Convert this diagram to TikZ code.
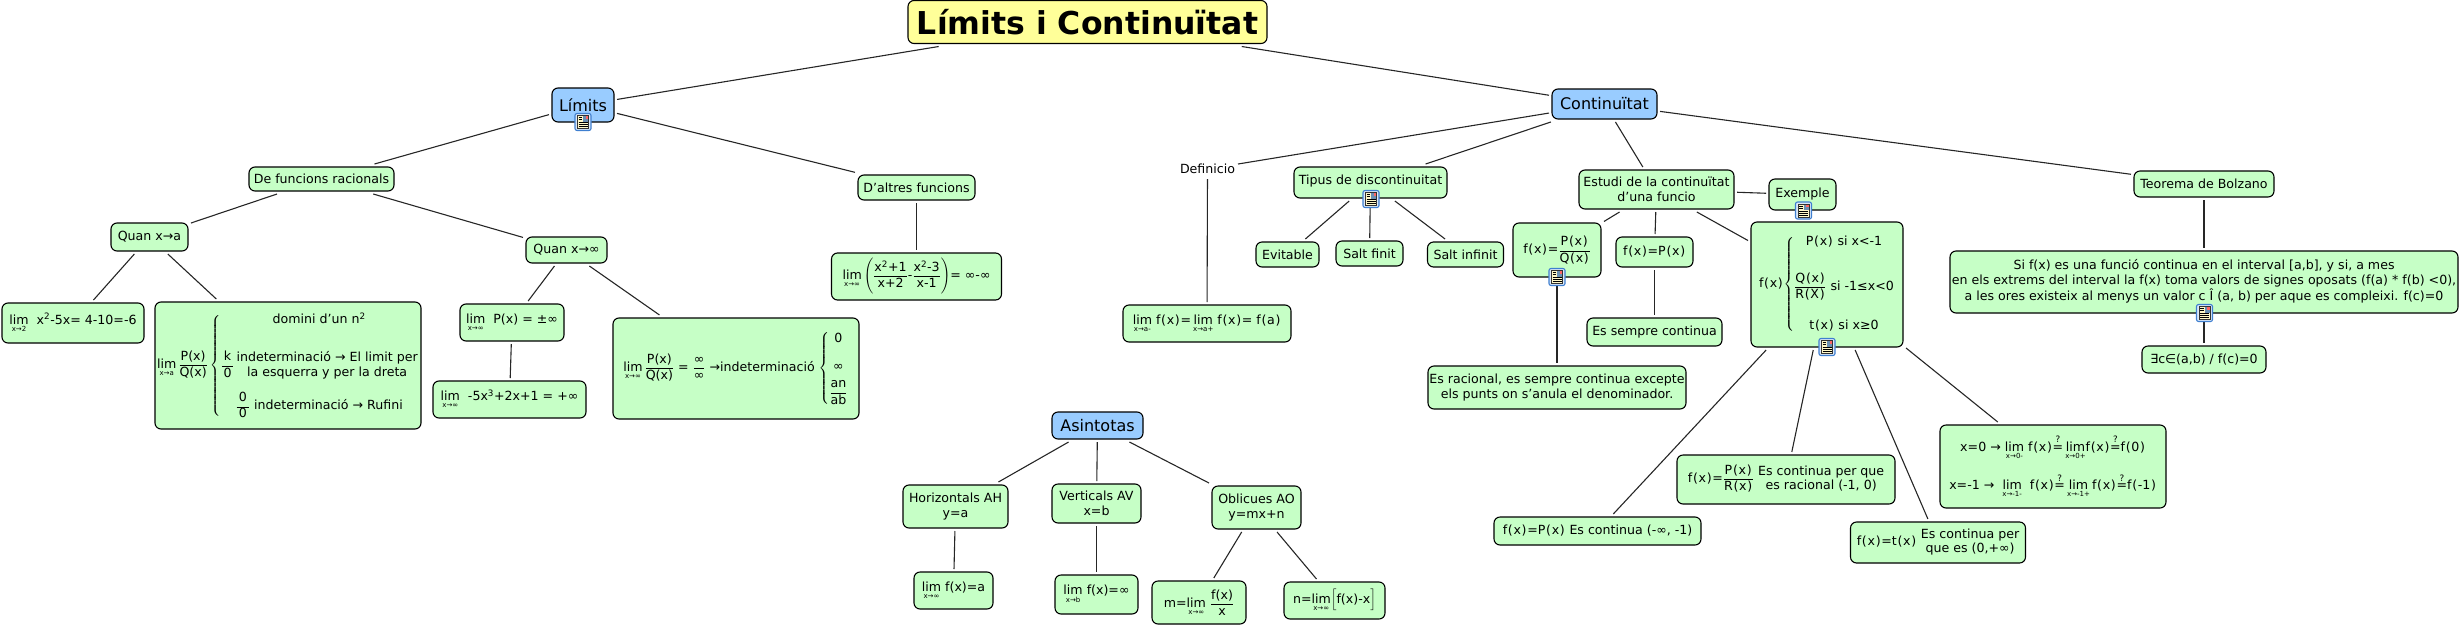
\documentclass[tikz,border=0pt]{standalone}
\usepackage{amsmath}
\usepackage{fontspec}
\setmainfont{DejaVu Sans}
\definecolor{cptgreen}{HTML}{C6FFC6}
\definecolor{cptblue}{HTML}{99CCFF}
\definecolor{cptyellow}{HTML}{FFFF99}
\definecolor{iconblue}{HTML}{3F7FD0}
\definecolor{iconpale}{HTML}{DCE9F8}
\definecolor{iconpage}{HTML}{FFF8C8}
\newcommand{\lm}[1]{\mathop{\text{lim}}\limits_{\hbox{\fontsize{7}{8}\selectfont #1}}}
\newcommand{\fr}[2]{\dfrac{\text{#1}}{\text{#2}}}
\newcommand{\twol}[2]{\begin{tabular}{@{}c@{}}#1\\#2\end{tabular}}
\newcommand{\qeq}{$\overset{\text{?}}{\text{=}}$}
\newcommand{\pr}[1]{\kern.7pt(\kern.7pt#1\kern.7pt)\kern.7pt\relax}
\begin{document}
\begin{tikzpicture}[x=1pt,y=-1pt]
\tikzset{sz/.style 2 args={minimum width=#1pt, minimum height=#2pt}}
\tikzstyle{cpt}=[draw=black, line width=1.1pt, fill=cptgreen, rounded corners=6pt, inner sep=0pt, outer sep=3pt, align=center, font=\fontsize{12.6}{14.7}\selectfont]
\tikzstyle{topic}=[cpt, fill=cptblue, font=\fontsize{16}{18}\selectfont]
\tikzstyle{lnk}=[line width=1.1pt, draw=black!85]
\tikzset{docicon/.pic={
  \draw[draw=iconblue, line width=1.1pt, fill=iconpale, rounded corners=2pt] (-8,-8.5) rectangle (8,8.5);
  \draw[draw=black!80, line width=.6pt, fill=iconpage] (-5.5,-6.5) rectangle (5.5,6.5);
  \fill[cptblue!70!black] (0,-6) rectangle (5,-.5);
  \fill[red!60] (2.5,-6) rectangle (5,-3.5);
  \foreach \yy in {-4.5,-2.5} \draw[black, line width=.7pt] (-4.5,\yy) -- (-1,\yy);
  \foreach \yy in {0.5,2.5,4.5} \draw[black, line width=.7pt] (-4.5,\yy) -- (4.5,\yy);
}}
\useasboundingbox (0,0) rectangle (2460,627);

\node[cpt, fill=cptyellow, sz={359}{43}, font=\fontsize{31.5}{36}\selectfont\bfseries] (Root) at (1087.5,22) {Límits i Continuïtat};
\node[topic, sz={62}{34}] (Lim) at (583,105) {Límits};
\node[topic, sz={105}{30}] (Cont) at (1604.5,104) {Continuïtat};
\node[topic, sz={91}{27}] (Asin) at (1097.5,425.5) {Asintotas};

\node[cpt, sz={145}{24}] (Rac) at (321.5,179) {De funcions racionals};
\node[cpt, sz={77}{28}] (QuanA) at (149.5,237) {Quan x→a};
\node[cpt, sz={142}{40}] (LimA) at (73,323) {$\lm{x→2}$\ \ x\textsuperscript{2}-5x= 4-10=-6};
\node[cpt, sz={266}{127}] (LimPQ) at (288,365.5) {$\lm{x→a}\fr{P(x)}{Q(x)}\left\{\begin{array}{@{}c@{}}
  \text{domini d'un\ n\textsuperscript{2}}\\[23pt]
  \fr{\,k\,}{0}\,\text{\twol{indeterminació → El limit per}{la esquerra y per la dreta}}\\[19pt]
  \fr{\,0\,}{0}\ \text{indeterminació → Rufini}
  \end{array}\right.$};
\node[cpt, sz={81}{26}] (QuanI) at (566.5,250) {Quan x→∞};
\node[cpt, sz={104}{37}] (LimP) at (512,322.5) {$\lm{x→∞}$\ \ P(x) = ±∞};
\node[cpt, sz={153}{37}] (LimC) at (509.5,399.5) {$\lm{x→∞}$\ \ -5x\textsuperscript{3}+2x+1 = +∞};
\node[cpt, sz={246}{101}] (LimQ) at (736,368.5) {$\lm{x→∞}\fr{P(x)}{Q(x)}$\ = $\fr{∞}{∞}$\ →indeterminació\ $\left\{\begin{array}{@{}c@{}}
  \text{0}\\[13pt]\text{∞}\\[6pt]\fr{an}{ab}\end{array}\right.$};
\node[cpt, sz={117}{25}] (Altres) at (916.5,187.5) {D'altres funcions};
\node[cpt, sz={170}{47}] (LimF) at (916.5,276.5) {$\lm{x→∞}\left(\fr{x\textsuperscript{2}+1}{x+2}\text{-}\fr{x\textsuperscript{2}-3}{x-1}\right)$= ∞-∞};

\node[cpt, sz={105}{43}] (Hor) at (955.5,506.5) {Horizontals AH\\y=a};
\node[cpt, sz={89}{39}] (Ver) at (1096.5,503.5) {Verticals AV\\x=b};
\node[cpt, sz={89}{43}] (Obl) at (1256.5,507.5) {Oblicues AO\\y=mx+n};
\node[cpt, sz={79}{37}] (LimH) at (953.5,590.5) {$\lm{x→∞}$\ f(x)=a};
\node[cpt, sz={83}{39}] (LimV) at (1096.5,594.5) {$\lm{x→b}$\ f(x)=∞};
\node[cpt, sz={94}{43}] (LimM) at (1199,602.5) {m=$\lm{x→∞}$\ $\fr{f(x)}{x}$};
\node[cpt, sz={101}{37}] (LimN) at (1334.5,600.5) {n=$\lm{x→∞}\Bigl[\text{f(x)-x}\Bigr]$};

\node[draw=none, fill=none, inner sep=0pt, outer sep=3pt, font=\fontsize{12.6}{14.7}\selectfont, sz={52}{14}] (Def) at (1207.5,169) {Definicio};
\node[cpt, sz={168}{37}] (LimD) at (1207,323.5) {$\lm{x→a-}$\ f\pr{x}=\,$\lm{x→a+}$\ f\pr{x}= f\pr{a}};
\node[cpt, sz={153}{31}, anchor=center] (Tip) at (1370.5,182.5) {\raisebox{5pt}{Tipus de discontinuitat}};
\node[cpt, sz={63}{25}] (Evit) at (1287.5,254.5) {Evitable};
\node[cpt, sz={67}{25}] (Finit) at (1369.5,253.5) {Salt finit};
\node[cpt, sz={76}{25}] (Infi) at (1465.5,254.5) {Salt infinit};

\node[cpt, sz={155}{39}] (Est) at (1656.5,189.5) {Estudi de la continuïtat\\d'una funcio};
\node[cpt, sz={67}{31}] (Exem) at (1802.5,194.5) {\raisebox{3pt}{Exemple}};
\node[cpt, sz={88}{54}] (FQ) at (1557,250) {f\pr{x}=$\fr{P\pr{x}}{Q\pr{x}}$};
\node[cpt, sz={77}{30}] (FP) at (1654.5,252) {f\pr{x}=P\pr{x}};
\node[cpt, sz={135}{28}] (Semp) at (1654.5,332) {Es sempre continua};
\node[cpt, sz={258}{43}] (Racio) at (1557,387.5) {Es racional, es sempre continua excepte\\els punts on s'anula el denominador.};
\node[cpt, sz={152}{125}] (FB) at (1827,284.5) {f\pr{x}$\left\{\begin{array}{@{}c@{}}
  \text{P\pr{x} si x<-1}\\[23pt]
  \fr{Q\pr{x}}{R\pr{X}}\ \text{si -1≤x<0}\\[24pt]
  \text{t\pr{x} si x≥0}\end{array}\right.$};
\node[cpt, sz={207}{28}] (Ca) at (1597.5,531) {f\pr{x}=P\pr{x} Es continua (-∞, -1)};
\node[cpt, sz={218}{49}] (Cb) at (1786,479.5) {f\pr{x}=$\fr{P\pr{x}}{R\pr{x}}$\ \twol{Es continua per que}{es racional (-1, 0)}};
\node[cpt, sz={175}{41}] (Cc) at (1938,542.5) {f\pr{x}=t\pr{x}\ \twol{Es continua per}{que es (0,+∞)}};
\node[cpt, sz={226}{83}] (Cd) at (2053,466.5) {x=0 →\ $\lm{x→0-}$\ f\pr{x}\qeq\,$\lm{x→0+}$f\pr{x}\qeq f\pr{0}\\[13pt]x=-1 →\ \ $\lm{x→-1-}$\ \ f\pr{x}\qeq\,$\lm{x→-1+}$\,f\pr{x}\qeq f\pr{-1}};

\node[cpt, sz={140}{26}] (Bol) at (2204,184) {Teorema de Bolzano};
\node[cpt, sz={508}{62}] (Si) at (2204,282) {\raisebox{2.5pt}{\begin{tabular}{@{}c@{}}Si f(x) es una funció continua en el interval [a,b], y si, a mes\\en els extrems del interval la f(x) toma valors de signes oposats (f(a) * f(b) <0),\\a les ores existeix al menys un valor c Î (a, b) per aque es compleixi. f(c)=0\end{tabular}}};
\node[cpt, sz={124}{27}] (Exis) at (2204,359.5) {∃c∈(a,b) / f(c)=0};

\draw[lnk] (Root) -- (Lim);
\draw[lnk] (Root) -- (Cont);
\draw[lnk] (Lim) -- (Rac);
\draw[lnk] (Lim) -- (Altres);
\draw[lnk] (Rac) -- (QuanA);
\draw[lnk] (Rac) -- (QuanI);
\draw[lnk] (QuanA) -- (LimA);
\draw[lnk] (QuanA) -- (LimPQ);
\draw[lnk] (QuanI) -- (LimP);
\draw[lnk] (QuanI) -- (LimQ);
\draw[lnk] (LimP) -- (LimC);
\draw[lnk] (Altres) -- (LimF);
\draw[lnk] (Asin) -- (Hor);
\draw[lnk] (Asin) -- (Ver);
\draw[lnk] (Asin) -- (Obl);
\draw[lnk] (Hor) -- (LimH);
\draw[lnk] (Ver) -- (LimV);
\draw[lnk] (Obl) -- (LimM);
\draw[lnk] (Obl) -- (LimN);
\draw[lnk] (Cont) -- (Def);
\draw[lnk] (Cont) -- (Tip);
\draw[lnk] (Cont) -- (Est);
\draw[lnk] (Cont) -- (Bol);
\draw[lnk] (Def) -- (LimD);
\draw[lnk] (Tip) -- (Evit);
\draw[lnk] (Tip) -- (Finit);
\draw[lnk] (Tip) -- (Infi);
\draw[lnk] (Est) -- (Exem);
\draw[lnk] (Est) -- (FQ);
\draw[lnk] (Est) -- (FP);
\draw[lnk] (Est) -- (FB);
\draw[lnk] (FQ) -- (Racio);
\draw[lnk] (FP) -- (Semp);
\draw[lnk] (FB) -- (Ca);
\draw[lnk] (FB) -- (Cb);
\draw[lnk] (FB) -- (Cc);
\draw[lnk] (FB) -- (Cd);
\draw[lnk] (Bol) -- (Si);
\draw[lnk] (Si) -- (Exis);

\pic at (583,122) {docicon};
\pic at (1371,199) {docicon};
\pic at (1557,277) {docicon};
\pic at (1803.5,210.5) {docicon};
\pic at (1827,347) {docicon};
\pic at (2204.5,313) {docicon};
\end{tikzpicture}
\end{document}
